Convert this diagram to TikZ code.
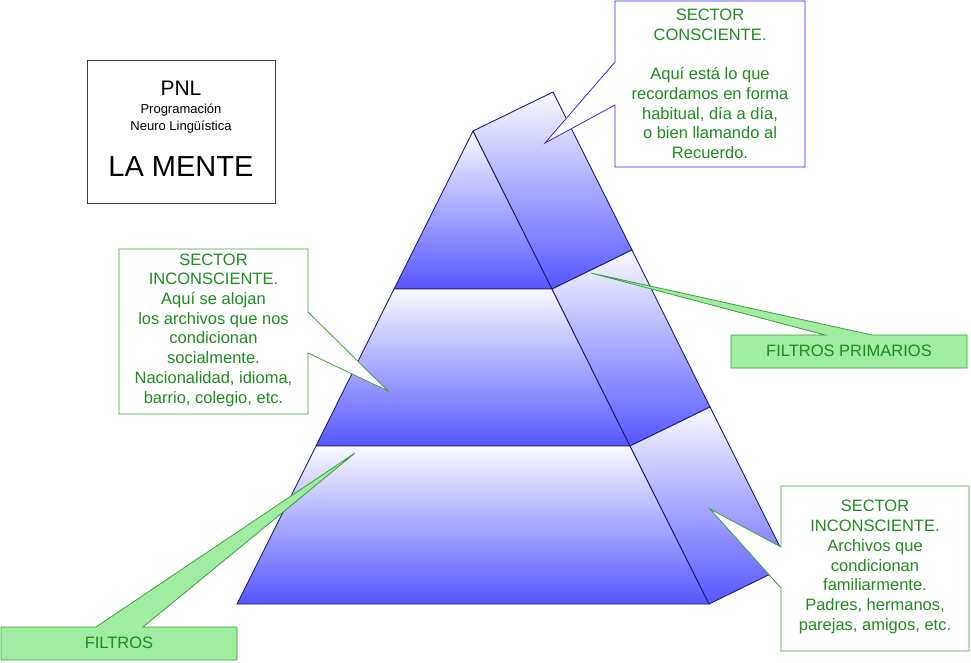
\documentclass[tikz,border=0pt]{standalone}
\usepackage{fontspec}
\setmainfont{Liberation Sans}

\definecolor{deep}{RGB}{86,86,255}
\definecolor{pale}{RGB}{250,250,255}
\definecolor{edge}{RGB}{30,30,120}
\definecolor{txtgreen}{RGB}{30,140,30}
\definecolor{boxgreen}{RGB}{60,160,60}
\definecolor{boxblue}{RGB}{45,45,250}
\definecolor{filtfill}{RGB}{160,236,160}

\begin{document}
\begin{tikzpicture}[
    x=1pt, y=-1pt,
    font=\fontsize{16.5}{19.7}\selectfont, line width=0.8pt,
    background/.style={fill=white,draw=none},
    layer/.style={draw=edge,line width=0.9pt,top color=pale,bottom color=deep},
    balloon/.style={draw=boxgreen,fill=white},
    filtro/.style={balloon,fill=filtfill},
    note/.style={text=txtgreen,align=center,inner sep=0pt},
    titlebox/.style={draw=black!75,fill=white,minimum width=188pt,minimum height=143pt}
]
\path[background,use as bounding box] (0,0) rectangle (971,662);

% the three levels of the mind, front and side faces
\coordinate (apex) at (473,131);
\coordinate (back) at (553,92);
\coordinate (fl1) at (394,289);
\coordinate (fr1) at (552,289);
\coordinate (sb1) at (632,250);
\coordinate (fl2) at (316,446);
\coordinate (fr2) at (630,446);
\coordinate (sb2) at (710,407);
\coordinate (fl3) at (237,604);
\coordinate (fr3) at (709,604);
\coordinate (sb3) at (789,565);

\draw[layer] (apex) -- (fr1) -- (fl1) -- cycle;
\draw[layer] (apex) -- (back) -- (sb1) -- (fr1) -- cycle;
\draw[layer] (fl1) -- (fr1) -- (fr2) -- (fl2) -- cycle;
\draw[layer] (fr1) -- (sb1) -- (sb2) -- (fr2) -- cycle;
\draw[layer] (fl2) -- (fr2) -- (fr3) -- (fl3) -- cycle;
\draw[layer] (fr2) -- (sb2) -- (sb3) -- (fr3) -- cycle;

\node[titlebox] (title) at (181,131.5) {};
\node[font=\fontsize{21}{24}\selectfont] (pnl) at (181,88) {PNL};
\node[font=\fontsize{13}{15}\selectfont] (prog) at (181,110) {Programación};
\node[font=\fontsize{13}{15}\selectfont] (neuro) at (181,127) {Neuro Lingüística};
\node[font=\fontsize{29}{33}\selectfont] (mente) at (181,167) {LA MENTE};

% callouts point into the pyramid
\coordinate (tipcons) at (545,143);
\coordinate (tipsoc) at (388,391);
\coordinate (tipprim) at (591,273);
\coordinate (tipfam) at (710,509);
\coordinate (tipfilt) at (355,453);

\draw[balloon,draw=boxblue] (615,1) -| (805,167) -| (615,105) -- (tipcons)
    -- (615,62) -- cycle;
\node[note] (consc) at (710,84)
    {SECTOR\\CONSCIENTE.\\[19.7pt]Aquí está lo que\\recordamos en forma\\
     habitual, día a día,\\o bien llamando al\\Recuerdo.};

\draw[balloon] (119,249) -| (308,312) -- (tipsoc) -- (308,353) |- (119,414) -- cycle;
\node[note] (social) at (213.5,330)
    {SECTOR\\INCONSCIENTE.\\Aquí se alojan\\los archivos que nos\\condicionan\\
     socialmente.\\Nacionalidad, idioma,\\barrio, colegio, etc.};

\draw[balloon] (781,486) -| (969,651) -| (781,588) -- (tipfam) -- (781,547) -- cycle;
\node[note] (family) at (875,567)
    {SECTOR\\INCONSCIENTE.\\Archivos que\\condicionan\\familiarmente.\\
     Padres, hermanos,\\parejas, amigos, etc.};

\draw[filtro] (731,335) -- (825,335) -- (tipprim) -- (872,335) -| (967,368)
    -| (731,335) -- cycle;
\node[note] (primary) at (849,351) {FILTROS PRIMARIOS};

\draw[filtro] (1,627) -- (96,627) -- (tipfilt) -- (143,627) -| (237,660)
    -| (1,627) -- cycle;
\node[note] (filters) at (119,643) {FILTROS};
\end{tikzpicture}
\end{document}
